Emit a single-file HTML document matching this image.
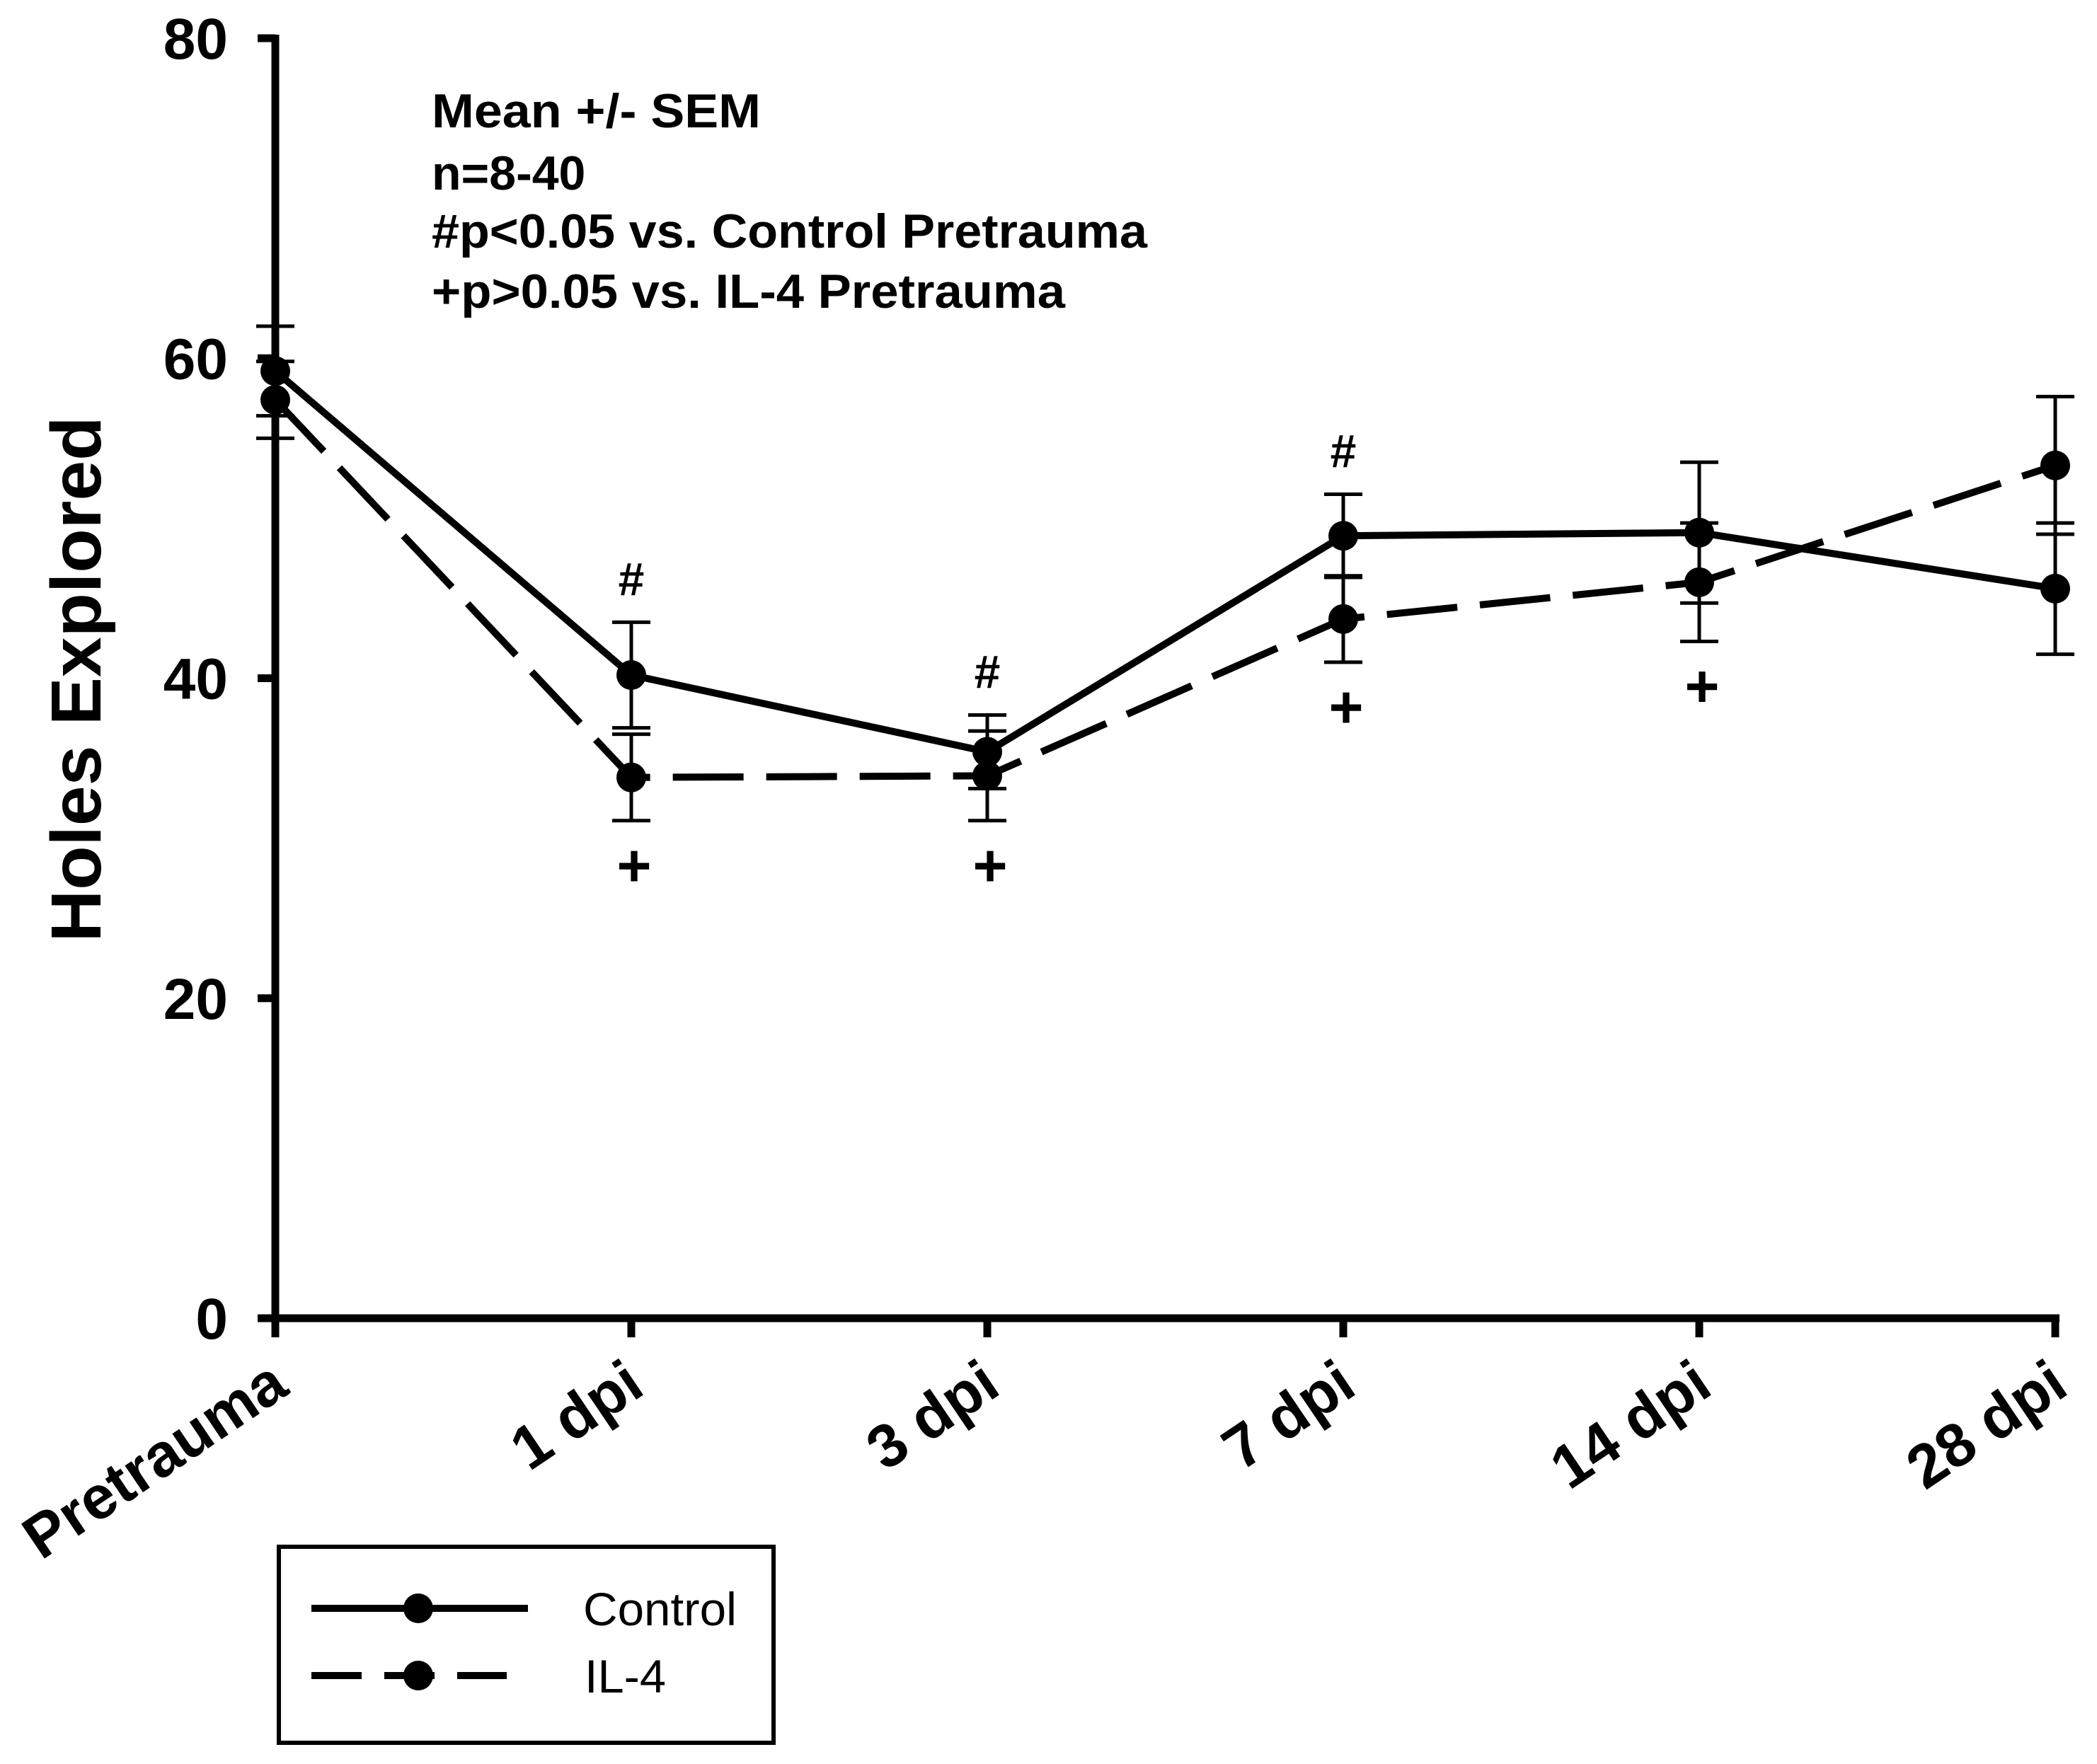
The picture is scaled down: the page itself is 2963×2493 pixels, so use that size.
<!DOCTYPE html>
<html><head><meta charset="utf-8"><style>
html,body{margin:0;padding:0;background:#fff}
svg{display:block}
text{font-family:"Liberation Sans",Arial,sans-serif;fill:#000}
</style></head><body>
<svg id="chart" width="2963" height="2493" viewBox="0 0 2963 2493" xmlns="http://www.w3.org/2000/svg">
<g id="axes"></g>
<g id="series"></g>
<g font-weight="bold" font-size="68">
<text x="610" y="180" textLength="465" lengthAdjust="spacingAndGlyphs">Mean +/- SEM</text>
<text x="610" y="268">n=8-40</text>
<text x="610" y="350" textLength="1011" lengthAdjust="spacingAndGlyphs">#p&lt;0.05 vs. Control Pretrauma</text>
<text x="610" y="435" textLength="895" lengthAdjust="spacingAndGlyphs">+p&gt;0.05 vs. IL-4 Pretrauma</text>
</g>
<text transform="translate(142,960) rotate(-90)" text-anchor="middle" font-weight="bold" font-size="100" textLength="743" lengthAdjust="spacingAndGlyphs">Holes Explored</text>
<g>
<rect x="394" y="2186" width="699" height="277" fill="none" stroke="#000" stroke-width="6"/>
<g>
<line x1="440" y1="2273" x2="746" y2="2273" stroke="#000" stroke-width="10"/>
<circle cx="591" cy="2273" r="21"/>
<text x="824" y="2297" font-size="66" textLength="217" lengthAdjust="spacingAndGlyphs">Control</text>
</g>
<g>
<line x1="440" y1="2368" x2="716" y2="2368" stroke="#000" stroke-width="10" stroke-dasharray="71 32"/>
<circle cx="591" cy="2368" r="21"/>
<text x="826" y="2392" font-size="66" textLength="115" lengthAdjust="spacingAndGlyphs">IL-4</text>
</g>
</g>
</svg>
<script>
const categories = ["Pretrauma","1 dpi","3 dpi","7 dpi","14 dpi","28 dpi"];
const yTicks = [0,20,40,60,80];
const controlMean = [59.2,40.2,35.4,48.9,49.1,45.6];
const controlSem = [2.8,3.3,2.3,2.6,4.4,4.1];
const il4Mean = [57.4,33.8,33.9,43.7,46.0,53.3];
const il4Sem = [2.4,2.7,2.8,2.7,3.7,4.3];
const hashAt = [1,2,3];
const plusAt = [1,2,3,4];

const NS="http://www.w3.org/2000/svg";
const x0=389, dx=503, yTop=54, yBot=1863;
function xs(i){return x0+i*dx;}
function ys(v){return yBot-(v/80)*(yBot-yTop);}
function mk(tag,attrs,parent){const e=document.createElementNS(NS,tag);for(const k in attrs)e.setAttribute(k,attrs[k]);parent.appendChild(e);return e;}
const axes=document.getElementById('axes');
const series=document.getElementById('series');

let e=mk('line',{x1:x0,y1:yTop-5,x2:x0,y2:yBot+5,stroke:'#000','stroke-width':11},axes);


e=mk('line',{x1:x0-25,y1:yBot,x2:xs(5)+6,y2:yBot,stroke:'#000','stroke-width':11},axes);


yTicks.forEach(v=>{
  const t=mk('line',{x1:x0-25,y1:ys(v),x2:x0,y2:ys(v),stroke:'#000','stroke-width':11},axes);
  
  
  const l=mk('text',{x:322,y:ys(v)+29,'text-anchor':'end','font-weight':'bold','font-size':82},axes);
  l.textContent=v;
  
  
});
categories.forEach((c,i)=>{
  const t=mk('line',{x1:xs(i),y1:yBot,x2:xs(i),y2:yBot+27,stroke:'#000','stroke-width':11},axes);
  
  
  const X=xs(i)+22, Y=1968;
  const l=mk('text',{x:X,y:Y,'text-anchor':'end','font-weight':'bold','font-size':86,transform:`rotate(-34 ${X} ${Y})`},axes);
  l.textContent=c;
  
  
});

function drawSeries(mean,sem,dash,name){
  const g=mk('g',{},series);
  
  
  mean.forEach((m,i)=>{
    const cx=xs(i), hi=ys(m+sem[i]), lo=ys(m-sem[i]);
    const eb=mk('path',{d:`M${cx},${hi}V${lo}M${cx-27},${hi}H${cx+27}M${cx-27},${lo}H${cx+27}`,stroke:'#000','stroke-width':5,fill:'none'},g);
    
    
  });
  const pts=mean.map((m,i)=>xs(i)+','+ys(m)).join(' ');
  const pl=mk('polyline',{points:pts,fill:'none',stroke:'#000','stroke-width':10},g);
  if(dash)pl.setAttribute('stroke-dasharray',dash);
  
  
  mean.forEach((m,i)=>{
    const c=mk('circle',{cx:xs(i),cy:ys(m),r:21,fill:'#000'},g);
    
    
  });
}
drawSeries(controlMean,controlSem,null,'control');
drawSeries(il4Mean,il4Sem,'100 32','il4');

hashAt.forEach(i=>{
  const t=mk('text',{x:xs(i),y:ys(controlMean[i]+controlSem[i])-38,'text-anchor':'middle','font-weight':'bold','font-size':66},series);
  t.textContent='#';
  
  
});
plusAt.forEach(i=>{
  const t=mk('text',{x:xs(i)+4,y:ys(il4Mean[i]-il4Sem[i])+92,'text-anchor':'middle','font-weight':'bold','font-size':84},series);
  t.textContent='+';
  
  
});
</script>
</body></html>
